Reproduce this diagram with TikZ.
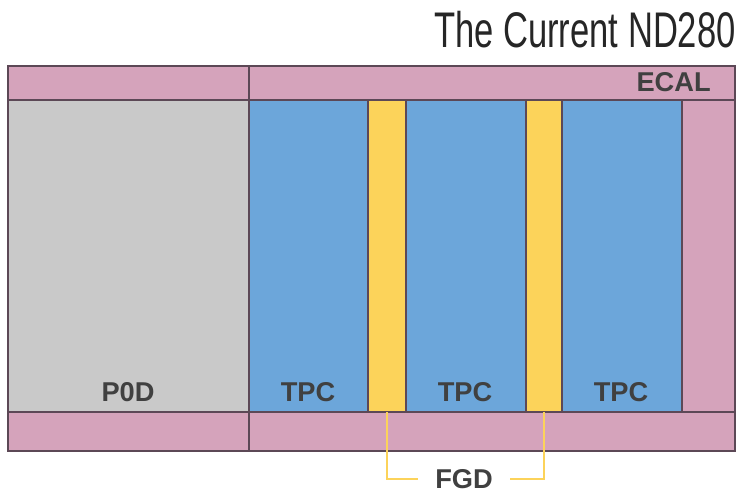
\documentclass[tikz,border=0pt]{standalone}
\usepackage{fontspec}
\setmainfont{Liberation Sans}
\usetikzlibrary{positioning,calc}
\definecolor{ecalpink}{RGB}{213,163,187}
\definecolor{podgrey}{RGB}{201,201,201}
\definecolor{tpcblue}{RGB}{108,166,218}
\definecolor{fgdyellow}{RGB}{252,211,90}
\definecolor{edge}{RGB}{92,72,86}
\definecolor{labeltext}{RGB}{64,64,64}
\tikzset{
    base/.style={
        draw=edge,
        line width=0.9pt,
    },
    % Electromagnetic calorimeter
    ecal/.style={
        base,
        fill=ecalpink,
    },
    % Pi-zero detector
    pod/.style={
        base,
        fill=podgrey,
    },
    % Time projection chamber
    tpc/.style={
        base,
        fill=tpcblue,
    },
    % Fine grained detector
    fgd/.style={
        base,
        fill=fgdyellow,
    },
    tag/.style={
        text=labeltext,
        font=\fontsize{15.5}{15.5}\selectfont\bfseries,
        inner sep=0pt,
    },
    lead/.style={
        fgdyellow,
        line width=1.6pt,
    },
}

\begin{document}
\begin{tikzpicture}[x=0.02cm,y=-0.02cm]
    \useasboundingbox (0,0) rectangle (740,492);
    \fill[white] (0,0) rectangle (740,492);

    % Outer calorimeter
    \draw[ecal] (8,66) rectangle (735,451);
    \draw[base] (8,100) -- (735,100);
    \draw[base] (8,412) -- (735,412);
    \draw[base] (249,66) -- (249,451);

    % Inner detectors
    \draw[pod] (8,100) rectangle (249,412);
    \draw[tpc] (249,100) rectangle (368,412);
    \draw[fgd] (368,100) rectangle (406,412);
    \draw[tpc] (406,100) rectangle (526,412);
    \draw[fgd] (526,100) rectangle (562,412);
    \draw[tpc] (562,100) rectangle (682,412);
    \coordinate (fgdA) at (387,412);
    \coordinate (fgdB) at (544,412);

    % Labels
    \node[tag] (p0d) at (128,392) {P0D};
    \node[tag] (tpcA) at (308,392) {TPC};
    \node[tag] (tpcB) at (465,392) {TPC};
    \node[tag] (tpcC) at (621,392) {TPC};
    \node[tag,anchor=east] (ecallabel) at (711,82) {ECAL};
    \node[tag] (fgdlabel) at (464,479) {FGD};

    % Leads from both FGDs to their label
    \draw[lead] (fgdA) |- ($(fgdlabel.west)+(-17,0)$);
    \draw[lead] (fgdB) |- ($(fgdlabel.east)+(17,0)$);

    \node[anchor=east,inner sep=0pt,text=black!85] (title) at (736,30)
        {\scalebox{0.69}[1]{\fontsize{28.5}{30}\selectfont The Current ND280}};
\end{tikzpicture}
\end{document}
